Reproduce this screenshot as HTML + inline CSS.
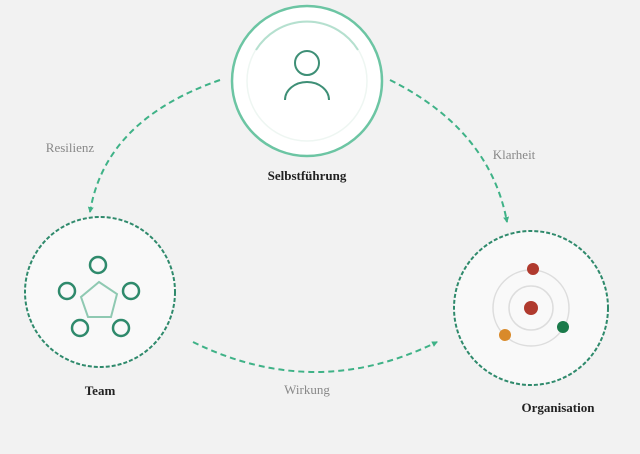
<!DOCTYPE html>
<html><head><style>
body{margin:0;background:#f2f2f2;}
svg{display:block}
</style></head><body>
<svg width="640" height="454" viewBox="0 0 640 454" xmlns="http://www.w3.org/2000/svg">
<rect width="640" height="454" fill="#f2f2f2"/>
<defs>
<marker id="a" markerWidth="8" markerHeight="8" refX="5" refY="3" orient="auto" markerUnits="userSpaceOnUse"><path d="M0,0 L6,3 L0,6 z" fill="#3fb287"/></marker>
</defs>
<g fill="none" stroke="#3fb287" stroke-width="2" stroke-dasharray="6,4">
<path d="M220,80 Q105,120 90,212" marker-end="url(#a)"/>
<path d="M390,80 Q490,130 507,222" marker-end="url(#a)"/>
<path d="M193,342 Q315,402 437,342" marker-end="url(#a)"/>
</g>
<circle cx="307" cy="81" r="75" fill="#fff" stroke="#6cc5a3" stroke-width="2.5"/>
<circle cx="307" cy="81" r="60" fill="none" stroke="#eef6f2" stroke-width="1.5"/>
<path d="M256,50 A60,60 0 0 1 358,50" fill="none" stroke="#b5e0cf" stroke-width="2"/>
<circle cx="307" cy="63" r="12" fill="none" stroke="#3e8f76" stroke-width="2"/>
<path d="M285,100 A22,18 0 0 1 329,100" fill="none" stroke="#3e8f76" stroke-width="2"/>
<circle cx="100" cy="292" r="75" fill="#f9f9f9" stroke="#2f8a6c" stroke-width="2" stroke-dasharray="4,2"/>
<g fill="none" stroke="#2f8a6c" stroke-width="2.5">
<circle cx="98" cy="265" r="8"/><circle cx="67" cy="291" r="8"/><circle cx="131" cy="291" r="8"/>
<circle cx="80" cy="328" r="8"/><circle cx="121" cy="328" r="8"/>
</g>
<polygon points="99,282 117,294 111,317 88,317 81,297" fill="none" stroke="#8fc9b2" stroke-width="2"/>
<circle cx="531" cy="308" r="77" fill="#f9f9f9" stroke="#2f8a6c" stroke-width="2" stroke-dasharray="4,2"/>
<circle cx="531" cy="308" r="22" fill="none" stroke="#ddd" stroke-width="1.5"/>
<circle cx="531" cy="308" r="38" fill="none" stroke="#ddd" stroke-width="1.5"/>
<circle cx="531" cy="308" r="7" fill="#b03a2e"/>
<circle cx="533" cy="269" r="6" fill="#b03a2e"/>
<circle cx="563" cy="327" r="6" fill="#1a7a4a"/>
<circle cx="505" cy="335" r="6" fill="#d98a2a"/>
<g font-family="Liberation Serif, serif" font-size="13">
<text x="307" y="180" text-anchor="middle" font-weight="bold" fill="#222">Selbstführung</text>
<text x="100" y="395" text-anchor="middle" font-weight="bold" fill="#222">Team</text>
<text x="558" y="412" text-anchor="middle" font-weight="bold" fill="#222">Organisation</text>
<text x="70" y="152" text-anchor="middle" fill="#888">Resilienz</text>
<text x="514" y="159" text-anchor="middle" fill="#888">Klarheit</text>
<text x="307" y="394" text-anchor="middle" fill="#888">Wirkung</text>
</g>
</svg>
</body></html>
